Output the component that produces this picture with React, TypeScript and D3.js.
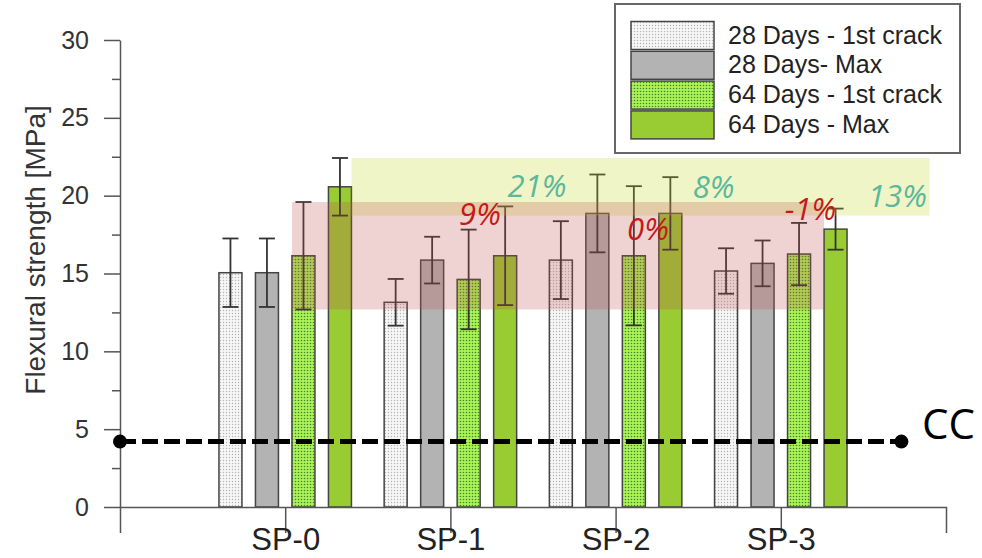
import { useEffect, useRef } from 'react'
import * as d3 from 'd3'

// * Chart data (MPa)
const groups = ['SP-0', 'SP-1', 'SP-2', 'SP-3']
const seriesNames = ['28 Days - 1st crack', '28 Days- Max', '64 Days - 1st crack', '64 Days - Max']
const crack28 = [15.05, 13.15, 15.86, 15.16]
const crack28Err = [2.2, 1.5, 2.5, 1.46]
const max28 = [15.05, 15.86, 18.86, 15.65]
const max28Err = [2.2, 1.5, 2.5, 1.47]
const crack64 = [16.14, 14.62, 16.14, 16.25]
const crack64Err = [3.45, 3.2, 4.47, 2.0]
const max64 = [20.57, 16.14, 18.86, 17.85]
const max64Err = [1.85, 3.17, 2.33, 1.32]
const yTicks = [0, 5, 10, 15, 20, 25, 30]
const yMinorTicks = [2.5, 7.5, 12.5, 17.5, 22.5, 27.5]
const ccLevel = 4.2

// * Percent annotations: text, type, anchor (group units, MPa)
const pctText = ['21%', '9%', '8%', '0%', '-1%', '13%']
const pctKind = ['max', 'crack', 'max', 'crack', 'crack', 'max']
const pctAtX = [1.524, 1.179, 2.593, 2.196, 3.18, 3.706]
const pctAtY = [19.91, 18.11, 19.85, 17.15, 18.43, 19.27]

const W = 982
const H = 558

export default function App() {
  const ref = useRef<SVGSVGElement | null>(null)

  useEffect(() => {
    const svg = d3.select(ref.current)
    svg.selectAll('*').remove()

    const values = [crack28, max28, crack64, max64]
    const errs = [crack28Err, max28Err, crack64Err, max64Err]
    const fills = ['url(#dotsWhite)', '#b3b3b3', 'url(#dotsGreen)', '#99cc33']

    const x = d3.scaleLinear().domain([-1, 4]).range([120, 946])
    const y = d3.scaleLinear().domain([0, 30]).range([507, 40])
    const sub = d3.scaleBand<string>().domain(seriesNames).range([-73, 73]).paddingInner(0.37).paddingOuter(0.185)

    // * Patterns
    const defs = svg.append('defs')
    const addDots = (id: string, bg: string, dot: string, r: number) => {
      const p = defs.append('pattern').attr('id', id).attr('patternUnits', 'userSpaceOnUse')
        .attr('width', 3).attr('height', 3)
      p.append('rect').attr('width', 3).attr('height', 3).attr('fill', bg)
      p.append('circle').attr('cx', 1.5).attr('cy', 1.5).attr('r', r).attr('fill', dot)
    }
    addDots('dotsWhite', '#f6f6f6', '#b4b4b4', 0.7)
    addDots('dotsGreen', '#aef25a', '#3d8a22', 0.8)

    // * Bars
    const bars = svg.append('g')
    values.forEach((vals, s) => {
      bars.selectAll(null)
        .data(vals)
        .enter()
        .append('rect')
        .attr('x', (d, i) => x(i) + sub(seriesNames[s])!)
        .attr('y', (d) => y(d))
        .attr('width', sub.bandwidth())
        .attr('height', (d) => y(0) - y(d))
        .attr('fill', fills[s])
        .attr('stroke', '#444')
        .attr('stroke-width', 1.5)
    })

    // * Error bars
    const eb = svg.append('g').attr('stroke', '#333').attr('stroke-width', 1.8)
    values.forEach((vals, s) => {
      vals.forEach((v, i) => {
        const cx = x(i) + sub(seriesNames[s])! + sub.bandwidth() / 2
        const e = errs[s][i]
        eb.append('line').attr('x1', cx).attr('x2', cx).attr('y1', y(v + e)).attr('y2', y(v - e))
        eb.append('line').attr('x1', cx - 8).attr('x2', cx + 8).attr('y1', y(v + e)).attr('y2', y(v + e))
        eb.append('line').attr('x1', cx - 8).attr('x2', cx + 8).attr('y1', y(v - e)).attr('y2', y(v - e))
      })
    })

    // * Highlight bands (SP-0 64-day ranges)
    const maxLeft = x(0) + sub(seriesNames[3])! + sub.bandwidth()
    svg.append('rect')
      .attr('x', maxLeft)
      .attr('width', x(3.9) - maxLeft)
      .attr('y', y(max64[0] + max64Err[0]))
      .attr('height', y(max64[0] - max64Err[0]) - y(max64[0] + max64Err[0]))
      .attr('fill', 'rgba(196, 215, 30, 0.25)')
    const crackLeft = x(0) + sub(seriesNames[2])!
    const crackRight = x(3) + sub(seriesNames[3])!
    svg.append('rect')
      .attr('x', crackLeft)
      .attr('width', crackRight - crackLeft)
      .attr('y', y(crack64[0] + crack64Err[0]))
      .attr('height', y(crack64[0] - crack64Err[0]) - y(crack64[0] + crack64Err[0]))
      .attr('fill', 'rgba(192, 80, 77, 0.25)')

    // * Axes
    const yAxis = svg.append('g')
      .attr('transform', `translate(${x(-1)},0)`)
      .call(d3.axisLeft(y).tickValues(yTicks).tickSize(16).tickSizeOuter(0).tickPadding(15))
    yAxis.selectAll('text').attr('font-size', 25).attr('fill', '#333').attr('font-family', 'Liberation Sans, Arial, sans-serif')
    svg.append('g')
      .attr('transform', `translate(${x(-1)},0)`)
      .call(d3.axisLeft(y).tickValues(yMinorTicks).tickSize(8).tickFormat(() => ''))
      .call((g) => g.select('.domain').remove())

    const xAxis = svg.append('g')
      .attr('transform', `translate(0,${y(0)})`)
      .call(d3.axisBottom(x).tickValues([0, 1, 2, 3]).tickSize(26).tickSizeOuter(26).tickFormat((d) => groups[+d]))
    xAxis.selectAll('text')
      .attr('y', 43).attr('dy', 0)
      .attr('font-size', 31).attr('fill', '#222').attr('font-family', 'Liberation Sans, Arial, sans-serif')

    svg.selectAll('.domain, .tick line').attr('stroke', '#555').attr('stroke-width', 1.5)

    svg.append('text')
      .attr('transform', `translate(45,250) rotate(-90)`)
      .attr('text-anchor', 'middle')
      .attr('font-size', 28)
      .attr('fill', '#333')
      .attr('font-family', 'Liberation Sans, Arial, sans-serif')
      .text('Flexural strength [MPa]')

    // * CC reference line
    svg.append('line')
      .attr('x1', x(-1)).attr('x2', x(3.73))
      .attr('y1', y(ccLevel)).attr('y2', y(ccLevel))
      .attr('stroke', '#000').attr('stroke-width', 5).attr('stroke-dasharray', '16 6')
    svg.selectAll(null).data([-1, 3.73]).enter().append('circle')
      .attr('cx', (d) => x(d)).attr('cy', y(ccLevel)).attr('r', 7).attr('fill', '#000')
    svg.append('text')
      .attr('x', 922).attr('y', y(ccLevel) - 3)
      .attr('font-size', 42)
      .attr('font-family', 'Open Sans, sans-serif')
      .attr('fill', '#000')
      .text('CC')

    // * Percent labels
    svg.append('g').selectAll('text')
      .data(pctText)
      .enter()
      .append('text')
      .attr('x', (d, i) => x(pctAtX[i]))
      .attr('y', (d, i) => y(pctAtY[i]))
      .attr('text-anchor', 'middle')
      .attr('font-size', 31)
      .attr('font-style', 'italic')
      .attr('font-family', 'Open Sans, sans-serif')
      .attr('fill', (d, i) => (pctKind[i] === 'max' ? '#5bb89a' : '#c41a1a'))
      .text((d) => d)

    // * Legend
    const legend = svg.append('g')
    legend.append('rect')
      .attr('x', 615).attr('y', 4).attr('width', 345).attr('height', 149)
      .attr('fill', '#fff').attr('stroke', '#666').attr('stroke-width', 2)
    seriesNames.forEach((name, s) => {
      const top = 21.5 + s * 29.8
      legend.append('rect')
        .attr('x', 631).attr('y', top).attr('width', 83).attr('height', 28)
        .attr('fill', fills[s]).attr('stroke', '#444').attr('stroke-width', 1.5)
      legend.append('text')
        .attr('x', 728).attr('y', top + 22)
        .attr('font-size', 25)
        .attr('fill', '#222')
        .attr('font-family', 'Liberation Sans, Arial, sans-serif')
        .text(name)
    })
  }, [])

  return (
    <svg
      ref={ref}
      width={W}
      height={H}
      style={{ position: 'absolute', left: 0, top: 0, background: '#fff' }}
    />
  )
}
